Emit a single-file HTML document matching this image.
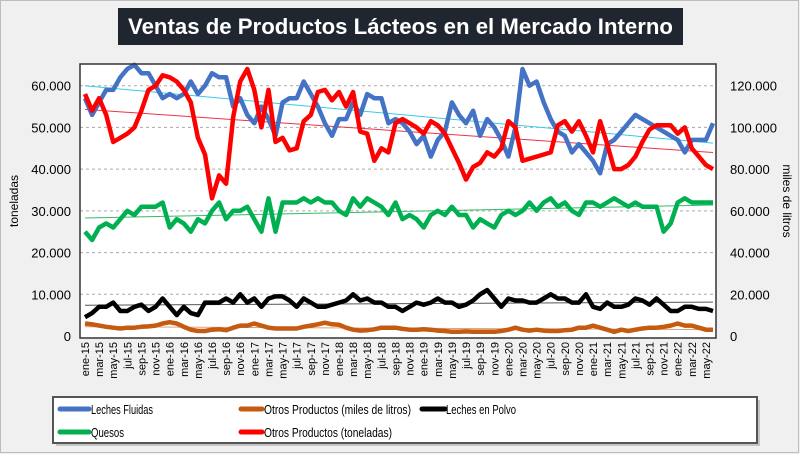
<!DOCTYPE html>
<html><head><meta charset="utf-8">
<style>
body{margin:0;width:800px;height:454px;overflow:hidden;background:#f0f0f0;font-family:"Liberation Sans",sans-serif;}
svg{display:block}
</style></head>
<body>
<svg id="chart" width="800" height="454">
  <rect x="0.5" y="0.5" width="798" height="452" fill="#f0f0f0" stroke="#bdbdbd"/>
  <rect x="118" y="8" width="565" height="37" fill="#1f2630"/>
  <text x="128" y="34" textLength="545" lengthAdjust="spacingAndGlyphs" fill="#fff" font-size="22" font-weight="bold">Ventas de Productos Lácteos en el Mercado Interno</text>
  <rect x="80" y="64" width="636" height="274" fill="#fff"/>
  <g id="grid"></g>
  <g id="trends"></g>
  <g id="series"></g>
  <rect x="80" y="64" width="636" height="274" fill="none" stroke="#333" stroke-width="1.5"/>
  <g id="axes" font-size="12" fill="#000"></g>
  <text transform="translate(18,201) rotate(-90)" text-anchor="middle" font-size="12">toneladas</text>
  <text transform="translate(783,201) rotate(90)" text-anchor="middle" font-size="12">miles de litros</text>
  <rect x="56" y="400" width="704" height="46" fill="#999" opacity="0.5"/>
  <rect x="53" y="397" width="704" height="46" fill="#fff" stroke="#555" stroke-width="2"/>
  <g font-size="13">
    <g><line x1="60" y1="409" x2="89" y2="409" stroke="#4472c4" stroke-width="5" stroke-linecap="round"/><text x="91" y="414" textLength="62" lengthAdjust="spacingAndGlyphs">Leches Fluidas</text></g>
    <g><line x1="60" y1="432" x2="89" y2="432" stroke="#00b050" stroke-width="5" stroke-linecap="round"/><text x="91" y="437" textLength="33" lengthAdjust="spacingAndGlyphs">Quesos</text></g>
    <g><line x1="241" y1="409" x2="262" y2="409" stroke="#c55a11" stroke-width="5" stroke-linecap="round"/><text x="264" y="414" textLength="147" lengthAdjust="spacingAndGlyphs">Otros Productos (miles de litros)</text></g>
    <g><line x1="241" y1="432" x2="262" y2="432" stroke="#ff0000" stroke-width="5" stroke-linecap="round"/><text x="264" y="437" textLength="128" lengthAdjust="spacingAndGlyphs">Otros Productos (toneladas)</text></g>
    <g><line x1="422" y1="409" x2="445" y2="409" stroke="#000" stroke-width="5" stroke-linecap="round"/><text x="446" y="414" textLength="70" lengthAdjust="spacingAndGlyphs">Leches en Polvo</text></g>
  </g>
</svg>
<script>
const months=["ene","feb","mar","abr","may","jun","jul","ago","sep","oct","nov","dic"];
const categories=[];for(let i=0;i<90;i++){categories.push(months[i%12]+"-"+(15+Math.floor(i/12)));}
const lechesFluidas=[57,53,56,59,59,62,64,65,63,63,60,57,58,57,58,61,58,60,63,62,62,55,57,53,51,55,52,48,56,57,57,61,58,55,51,48,52,52,56,53,58,57,57,51,52,51,49,46,48,43,47,49,56,53,51,54,48,52,50,47,43,50,64,60,61,56,52,49,48,44,46,44,42,39,46,47,49,51,53,52,51,50,49,48,47,44,47,47,47,51].map(v=>v*1000);
const quesos=[25,23,26,27,26,28,30,29,31,31,31,32,26,28,27,25,28,27,30,32,28,30,30,31,28,25,33,25,32,32,32,33,32,33,32,32,30,29,33,31,33,32,31,29,32,28,29,28,26,29,30,29,31,29,29,26,28,27,26,29,30,29,30,32,30,32,33,31,32,30,29,32,32,31,32,33,32,31,32,31,31,31,25,27,32,33,32,32,32,32].map(v=>v*1000);
const lechesPolvo=[4.5,5.5,7,7,8,6,6,7,7.5,6,7,9,7,5,7,5.5,5,8,8,8,9,8,10,8,9,7,9,9.5,9.5,8.5,7,9,8,7,7,7.5,8,8.5,10,8.5,9,8,8,7,7,6,7,8,7.5,8,9,8,8,7,7.5,8.5,10,11,9,7,9,8.5,8.5,8,8,9,10,9,9,8,8,10,7,6.5,8,7,7,7.5,9,8.5,7.5,9,7.5,6,6,7,7,6.5,6.5,6].map(v=>v*1000);
const otrosLitros=[6,5.6,5,4.4,4,3.6,4,4,4.4,4.6,5,6,6.6,6,4.4,3,2.4,2.4,3,3.2,2.8,4,5,5,6,5,4,3.6,3.6,3.6,3.6,4.4,5,5.6,6.4,5.6,5.4,4,3,2.6,2.8,3.2,4,4,4,3.4,3,3,3.2,3,2.6,2.4,2,2,2.2,2,2,2,2,2.4,3,4,3,2.6,3,2.6,2.4,2.4,2.8,3,4,4,5,4,3,2,3,2.4,3,3.6,4,4,4.4,5,6,5,5,4,3,3].map(v=>v*1000);
const otrosToneladas=[116,108,114,106,93,95,97,100,108,118,120,125,124,122,118,112,95,87,66,77,73,105,122,128,118,100,118,93,95,89,90,103,106,117,118,113,117,110,117,98,97,84,90,88,102,104,102,100,97,103,101,97,90,83,75,81,83,88,86,90,103,100,84,85,86,87,88,101,103,98,103,96,88,103,92,80,80,82,86,93,99,101,101,101,97,100,90,86,82,80].map(v=>v*1000);
const leftTicks=[0,10000,20000,30000,40000,50000,60000];
const rightTicks=[0,20000,40000,60000,80000,100000,120000];
const NS="http://www.w3.org/2000/svg";
const PX0=85,PX1=713,PY0=336,PYtop=64,LMAX=65200,RMAX=130400;
function xPos(i){return PX0+(PX1-PX0)*i/(categories.length-1);}
function yL(v){return PY0-(PY0-PYtop)*v/LMAX;}
function yR(v){return PY0-(PY0-PYtop)*v/RMAX;}
function fmt(v){return v===0?"0":v.toLocaleString("en-US").replace(/,/g,".");}
const grid=document.getElementById("grid"),axes=document.getElementById("axes"),trends=document.getElementById("trends"),ser=document.getElementById("series");
leftTicks.forEach(t=>{
  if(t>0){const l=document.createElementNS(NS,"line");
  l.setAttribute("x1",80);l.setAttribute("x2",716);l.setAttribute("y1",yL(t));l.setAttribute("y2",yL(t));
  l.setAttribute("stroke","#aaa");l.setAttribute("stroke-dasharray","3,3");
  
  
  grid.appendChild(l);}
  const tx=document.createElementNS(NS,"text");
  tx.setAttribute("x",71);tx.setAttribute("y",yL(t)+5);tx.setAttribute("text-anchor","end");tx.setAttribute("font-size","13");tx.textContent=fmt(t);
  
  
  axes.appendChild(tx);
});
rightTicks.forEach(t=>{
  const tx=document.createElementNS(NS,"text");
  tx.setAttribute("x",730);tx.setAttribute("y",yR(t)+5);tx.setAttribute("font-size","13");tx.textContent=fmt(t);
  
  
  axes.appendChild(tx);
});
categories.forEach((c,i)=>{
  if(i%2)return;
  const tx=document.createElementNS(NS,"text");
  const x=xPos(i)+4;
  tx.setAttribute("transform","translate("+x+",342) rotate(-90)");
  tx.setAttribute("text-anchor","end");tx.setAttribute("font-size","11");tx.textContent=c;
  
  
  axes.appendChild(tx);
});
function trend(data,yf,color,name){
  const n=data.length;let sx=0,sy=0,sxy=0,sxx=0;
  data.forEach((v,i)=>{sx+=i;sy+=v;sxy+=i*v;sxx+=i*i;});
  const b=(n*sxy-sx*sy)/(n*sxx-sx*sx),a=(sy-b*sx)/n;
  const l=document.createElementNS(NS,"line");
  l.setAttribute("x1",xPos(0));l.setAttribute("x2",xPos(n-1));
  l.setAttribute("y1",yf(a));l.setAttribute("y2",yf(a+b*(n-1)));
  l.setAttribute("stroke",color);l.setAttribute("stroke-width","1");
  
  
  trends.appendChild(l);
}
function series(data,yf,color,name){
  const p=document.createElementNS(NS,"polyline");
  p.setAttribute("points",data.map((v,i)=>xPos(i).toFixed(1)+","+yf(v).toFixed(1)).join(" "));
  p.setAttribute("fill","none");p.setAttribute("stroke",color);p.setAttribute("stroke-width","4.5");
  p.setAttribute("stroke-linejoin","round");
  
  
  ser.appendChild(p);
}
series(otrosLitros,yR,"#c55a11","series-otros-miles-litros");
series(lechesPolvo,yL,"#000","series-leches-en-polvo");
series(quesos,yL,"#00b050","series-quesos");
series(lechesFluidas,yL,"#4472c4","series-leches-fluidas");
series(otrosToneladas,yR,"#ff0000","series-otros-toneladas");
trend(lechesFluidas,yL,"#33ccee","trend-leches-fluidas");
trend(otrosToneladas,yR,"#ee3344","trend-otros-toneladas");
trend(quesos,yL,"#33bb66","trend-quesos");
trend(lechesPolvo,yL,"#555","trend-leches-en-polvo");
trend(otrosLitros,yR,"#e0a070","trend-otros-miles-litros");
</script>
</body></html>
